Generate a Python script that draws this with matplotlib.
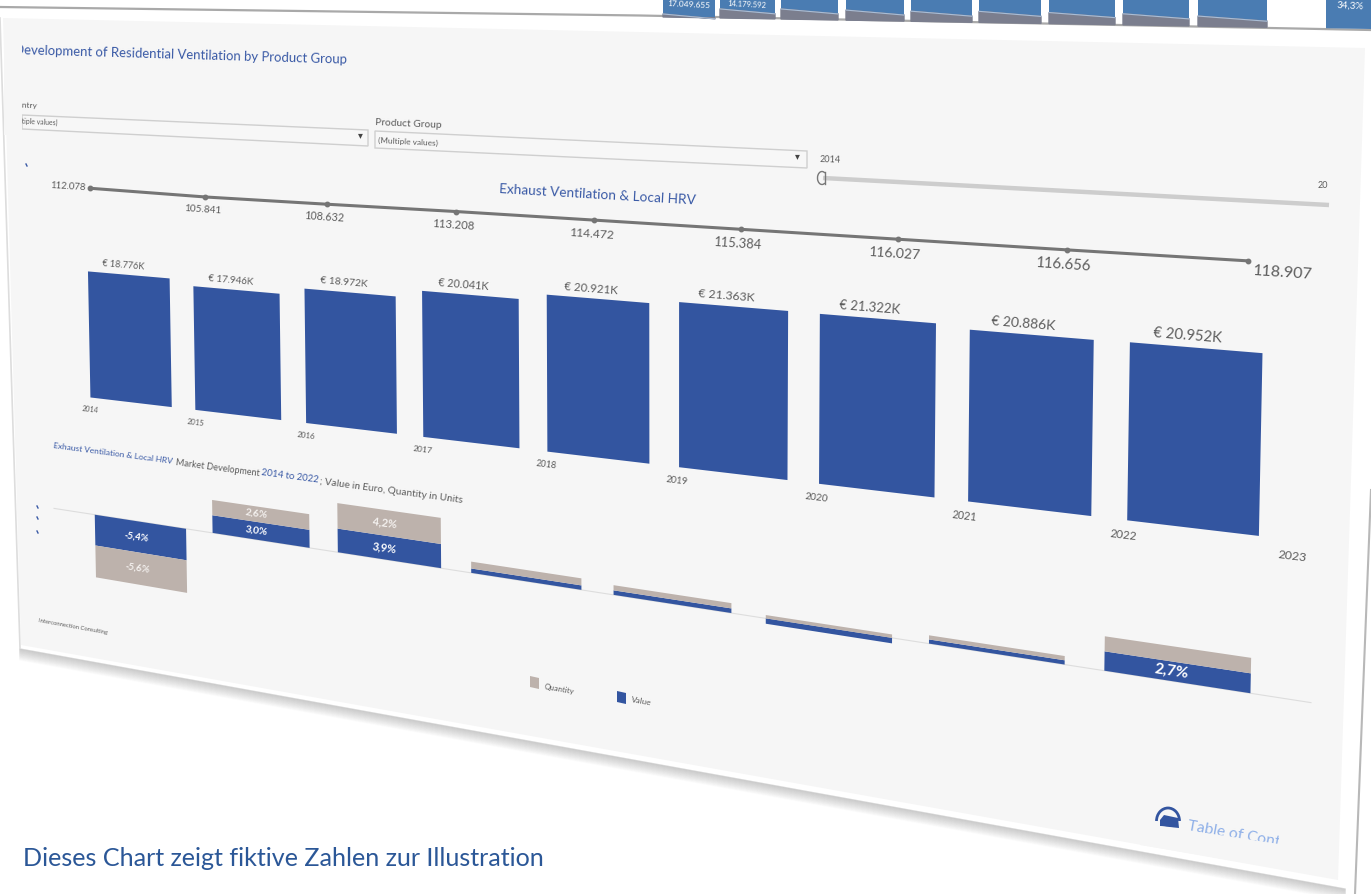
import numpy as np
import matplotlib
matplotlib.use("Agg")
import matplotlib.pyplot as plt
from matplotlib.patches import Polygon, Arc
from matplotlib.transforms import Transform, Affine2D

plt.rcParams['font.family'] = ['Lato', 'DejaVu Sans']

# data
years = ['2014', '2015', '2016', '2017', '2018', '2019', '2020', '2021', '2022', '2023']
value_k = [18.776, 17.946, 18.972, 20.041, 20.921, 21.363, 21.322, 20.886, 20.952]
value_lbl = ['€ 18.776K', '€ 17.946K', '€ 18.972K', '€ 20.041K', '€ 20.921K',
             '€ 21.363K', '€ 21.322K', '€ 20.886K', '€ 20.952K']
qty = [112.078, 105.841, 108.632, 113.208, 114.472, 115.384, 116.027, 116.656, 118.907]
qty_lbl = ['112.078', '105.841', '108.632', '113.208', '114.472', '115.384', '116.027', '116.656', '118.907']
growth_val = [-5.4, 3.0, 3.9, 0.7, 0.7, -0.8, 0.6, 2.7]
growth_qty = [-5.6, 2.6, 4.2, 1.1, 0.8, 0.5, 0.6, 2.1]
growth_val_lbl = ['-5,4%', '3,0%', '3,9%', '', '', '', '', '2,7%']
growth_qty_lbl = ['-5,6%', '2,6%', '4,2%', '', '', '', '', '']
# dashboard behind the front one, only its lower edge is in the picture
back_edges = [663, 720, 781, 846, 911, 979, 1049, 1123, 1198, 1326]
back_rights = [715, 775, 838, 904, 972, 1041, 1115, 1189, 1267, 1371]
back_grey = [1, 7, 8, 8, 8, 9, 9, 9, 8, 0]

BLUE = '#3355a0'
TAUPE = '#bdb2ac'
GREY = '#5c5c5c'
TITLE = '#3a5aa6'
PANEL = '#f6f6f6'
BAR_W = 0.78

# where the bar corners sit in the picture, (plane x, plane y) -> pixels
calib_plane = [(-.39, 18.776), (.39, 18.776), (.39, 0), (-.39, 0),
               (3.61, 20.921), (4.39, 20.921), (4.39, 0), (3.61, 0),
               (7.61, 20.952), (8.39, 20.952), (8.39, 0), (7.61, 0)]
calib_px = [(88, 270), (170, 279), (171, 408), (91, 397),
            (547, 294), (648, 305), (648, 465), (548, 451),
            (1131, 342), (1262, 353), (1256, 537), (1131, 518)]


def fit_h(src, dst):
    rows = []
    for (x, y), (u, v) in zip(src, dst):
        rows.append([x, y, 1, 0, 0, 0, -u*x, -u*y, -u])
        rows.append([0, 0, 0, x, y, 1, -v*x, -v*y, -v])
    return np.linalg.svd(np.array(rows, dtype=float))[2][-1].reshape(3, 3)


H = fit_h(calib_plane, calib_px)
H_inv = np.linalg.inv(H)


def apply_h(m, pts):
    pts = np.atleast_2d(pts)
    q = np.c_[pts, np.ones(len(pts))] @ m.T
    return q[:, :2] / q[:, 2:]


class Tilt(Transform):
    input_dims = 2
    output_dims = 2
    is_separable = False

    def transform_non_affine(self, values):
        return apply_h(H, values)


fig = plt.figure(figsize=(13.71, 8.94), dpi=100)
ax = fig.add_axes([0, 0, 1, 1])
ax.set_xlim(0, 1371)
ax.set_ylim(894, 0)
ax.axis('off')
ax.set_autoscale_on(False)
plane = Tilt() + ax.transData

# lower chart and line have their own scales on the same plane
low_aff = Affine2D.from_values(1.122, -0.1, 0, 0.86, 0.0676, -17.6)
line_aff = Affine2D.from_values(1.081, 0, 0, 0.03, -0.35, 27.75)


def label(x, y, s, size, color=GREY, ha='center', va='center', weight='normal'):
    # size is for a place where one plane unit is 100 px wide
    a, b = apply_h(H, [(x, y), (x + .1, y)])
    d = b - a
    rot = -np.degrees(np.arctan2(d[1], d[0]))
    fs = size * np.hypot(*d) * 10 / 100
    return ax.text(x, y, s, transform=plane, fontsize=fs, color=color, ha=ha, va=va,
                   rotation=rot, rotation_mode='anchor', fontweight=weight)


def label_px(px, py, s, size, **kw):
    x, y = apply_h(H_inv, (px, py))[0]
    return label(x, y, s, size, **kw)


# behind dashboard
back = Affine2D.from_values(1, 0.017, 0, -1, 0, 5.7) + ax.transData
ax.plot([0, 640, 1371], [7, 15.5, 30], color='#a9a9a9', lw=1.6, zorder=1)
for l, r, g in zip(back_edges, back_rights, back_grey):
    ax.bar(l, 60, r - l, align='edge', color='#4a7cb2', transform=back, zorder=1)
    if g:
        ax.fill([l, r, r, l], [0, 0, g - 2, g + 2], color='#7b7e8e', transform=back, zorder=1.1)
        ax.plot([l, r], [g + 2, g - 2], color='#a9bdd6', lw=.8, transform=back, zorder=1.2)
ax.text(689, 5, '17.049.655', color='white', fontsize=6, ha='center', va='center', rotation=-3, zorder=2)
ax.text(747, 4.5, '14.179.592', color='white', fontsize=5.5, ha='center', va='center', rotation=-3, zorder=2)
ax.text(1350, 6, '34,3%', color='white', fontsize=7, ha='center', va='center', rotation=-3, zorder=2)

# panel and bevel
ax.add_patch(Polygon([(0, 16), (1371, 42), (1371, 600), (1355, 894), (1330, 894), (20, 648)],
                     closed=True, fc='white', ec='none', zorder=2))
ax.add_patch(Polygon([(3, 18), (1365, 48), (1338, 880), (21, 645)], closed=True, fc=PANEL, ec='none', zorder=2.1))
for i in range(12):
    ax.plot([20, 1345], [649 + i, 889 + i], color='#8a8a8a', alpha=0.35 * (1 - i / 12), lw=1, zorder=2.05)
ax.plot([1371, 1355], [490, 894], color='#b8b8b8', lw=1.5, zorder=2.2)
ax.plot([0, 20], [18, 648], color='#dddddd', lw=1.2, zorder=2.2)

# header, the first letters run under the left mask
label_px(14, 50, 'Development of Residential Ventilation by Product Group', 9.5, color=TITLE, ha='left')
label_px(8, 105, 'Country', 6, ha='left')
label_px(8, 120, '(Multiple values)', 5, ha='left')
label_px(375, 123, 'Product Group', 6.2, ha='left')
label_px(378, 140, '(Multiple values)', 5, ha='left')
box_a = [(22, 115), (368, 130), (368, 146), (22, 129)]
box_b = [(375, 131), (807, 151), (807, 168), (375, 148)]
for box in (box_a, box_b):
    ax.add_patch(Polygon(box, closed=True, fc='#f7f7f7', ec='#cfcfcf', lw=1, zorder=2.5))
ax.text(360, 136, '▾', color='#444444', fontsize=7, ha='center', va='center', zorder=4)
ax.text(797, 157, '▾', color='#444444', fontsize=7, ha='center', va='center', zorder=4)

# year slider
ax.plot([823, 1329], [178, 205], color='#cdcdcd', lw=3.2, zorder=3, solid_capstyle='butt')
ax.add_patch(Arc((822, 178), 9, 13, theta1=60, theta2=300, color='#777777', lw=1, zorder=4))
ax.plot([825, 825], [172, 184], color='#777777', lw=1, zorder=4)
ax.text(830, 160, '2014', color=GREY, fontsize=6.5, ha='center', va='center', rotation=-2, zorder=4)
ax.text(1323, 185, '20', color=GREY, fontsize=6.5, ha='center', va='center', zorder=4)

label_px(598, 195, 'Exhaust Ventilation & Local HRV', 7.4, color=TITLE)

# line
xs = np.arange(len(qty))
ax.plot(xs, qty, color='#757575', lw=2.2, marker='o', ms=3.2, transform=line_aff + plane, zorder=5)
pts = line_aff.transform(np.c_[xs, qty])
for i, (p, s) in enumerate(zip(pts, qty_lbl)):
    if i == 0:
        label(p[0] - .05, p[1] + .1, s, 6.6, ha='right')
    elif i == len(qty) - 1:
        label(p[0] + .03, p[1] - 1.1, s, 6.6, ha='left')
    else:
        label(p[0] - .02, p[1] - 1.8, s, 6.6)

# value bars
ax.bar(xs, value_k, BAR_W, color=BLUE, transform=plane, zorder=5)
for x, v, s in zip(xs, value_k, value_lbl):
    label(x - .05, v + 1.3, s, 6.3)
for i, y in enumerate(years):
    label(-.39 + i * .997, -1.85, y, 5)

# second title
label_px(53, 446, 'Exhaust Ventilation & Local HRV', 6, color=TITLE, ha='left')
label_px(176, 463, 'Market Development', 6, ha='left')
label_px(261, 473, '2014 to 2022', 6.1, color=TITLE, ha='left')
label_px(320, 482, '; Value in Euro, Quantity in Units', 6.2, ha='left')

# growth bars, value next to the zero line
low = low_aff + plane
xl = np.arange(len(growth_val))
stack_on = [v if v * q > 0 else 0 for v, q in zip(growth_val, growth_qty)]
ax.plot([-.75, 7.7], [0, 0], color='#dddddd', lw=.8, transform=low, zorder=4)
ax.bar(xl, growth_val, BAR_W, color=BLUE, transform=low, zorder=5)
ax.bar(xl, growth_qty, BAR_W, bottom=stack_on, color=TAUPE, transform=low, zorder=5)
for i in xl:
    v, q = growth_val[i], growth_qty[i]
    p = low_aff.transform((i - .03, v / 2))
    if growth_val_lbl[i]:
        label(p[0], p[1], growth_val_lbl[i], 6.6, color='white', weight='bold').set_zorder(6)
    p = low_aff.transform((i - .03, v + q / 2))
    if growth_qty_lbl[i]:
        label(p[0], p[1], growth_qty_lbl[i], 6.6, color='#f4f1ef', weight='bold').set_zorder(6)

# y axis leftovers, source, legend, link
for my in (506, 517, 531):
    ax.plot([37, 38], [my, my + 2], color=TITLE, lw=1, zorder=4)
ax.plot([26, 27], [164, 166], color=TITLE, lw=1, zorder=4)
label_px(38, 621, 'Interconnection Consulting', 4.2, ha='left')
ax.add_patch(Polygon([(530, 676), (539, 678), (539, 689), (530, 687)], closed=True, fc=TAUPE, ec='none', zorder=5))
ax.add_patch(Polygon([(617, 691), (626, 693), (626, 704), (617, 702)], closed=True, fc=BLUE, ec='none', zorder=5))
label_px(544, 687, 'Quantity', 4.4, ha='left')
label_px(631, 700, 'Value', 4.4, ha='left')

ax.add_patch(Arc((1168, 821), 23, 26, theta1=180, theta2=360, color=BLUE, lw=2, zorder=5))
ax.add_patch(Polygon([(1160, 820), (1164, 815), (1178, 818), (1179, 828), (1160, 826)],
                     closed=True, fc=BLUE, ec='none', zorder=5))
label_px(1188, 826, 'Table of Contents', 6.6, color='#8fb0e8', ha='left')

# masks that cut text and icon the way the screenshot does
masks = [[(4, 40), (22, 40), (22, 135), (4, 135)],
         [(25, 623), (120, 637), (120, 645), (25, 632)],
         [(1140, 823), (1279, 844), (1279, 800), (1338, 800), (1338, 878), (1140, 845)]]
for m in masks:
    ax.add_patch(Polygon(m, closed=True, fc=PANEL, ec='none', zorder=8))

fig.text(23 / 1371, 1 - 859 / 894, 'Dieses Chart zeigt fiktive Zahlen zur Illustration',
         color='#2b5797', fontsize=18.1, ha='left', va='center')

fig.savefig('out.png', dpi=100, facecolor='white')
